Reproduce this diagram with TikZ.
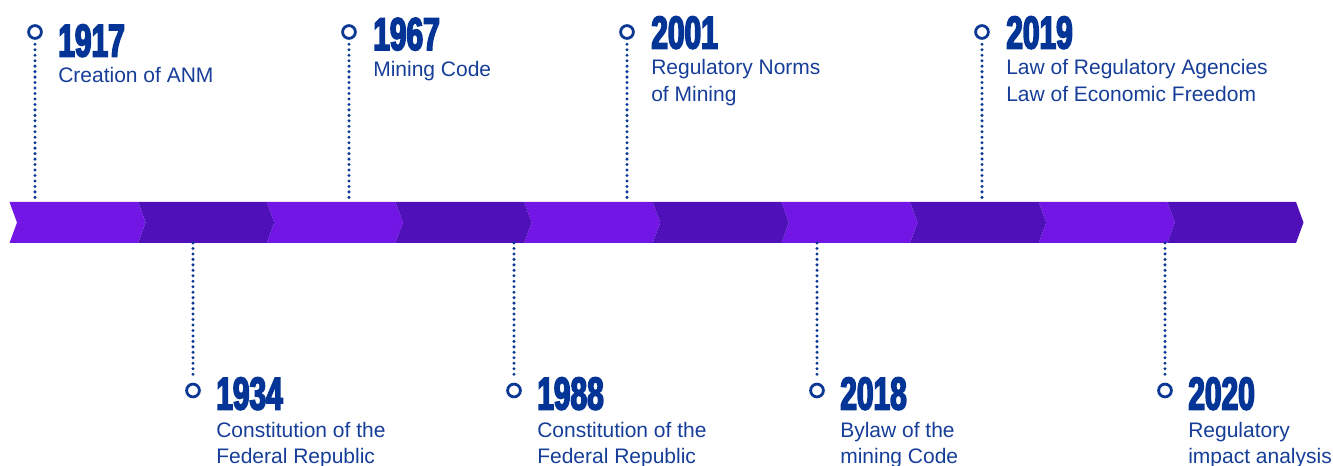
\documentclass[tikz,border=0pt]{standalone}
\usepackage{fontspec}
\setmainfont{Liberation Sans}
\newfontfamily\yearfont[FakeStretch=0.65,FakeBold=3.5]{Liberation Sans Bold}
\definecolor{bright}{RGB}{114,22,230}
\definecolor{dark}{RGB}{79,16,185}
\definecolor{yearblue}{RGB}{3,52,150}
\definecolor{lblblue}{RGB}{22,62,152}
\definecolor{lineblue}{RGB}{10,56,148}
\tikzset{
  yr/.style={font=\yearfont\fontsize{34.5}{34.5}\selectfont, text=yearblue, anchor=base west, inner sep=0pt},
  lbl/.style={font=\fontsize{15.75}{20}\selectfont, text=lblblue, anchor=base west, inner sep=0pt},
  pin/.style={circle, draw=lineblue, line width=2.1pt, fill=white, minimum size=9.6pt, inner sep=0pt},
  dots/.style={draw=lineblue, line width=2.5pt, line cap=round, dash pattern=on 0pt off 4.1pt}
}
\begin{document}
\begin{tikzpicture}[x=0.75pt,y=-0.75pt]
\useasboundingbox (0,0) rectangle (1333,466);
% band
\foreach \i in {0,2,4,6,8}{
  \pgfmathsetmacro\xx{9.5+\i*128.65}
  \fill[bright] (\xx,202) -- ++(128.65,0) -- ++(7.5,20.5) -- ++(-7.5,20.5) -- ++(-128.65,0) -- ++(7.5,-20.5) -- cycle;
}
\foreach \i in {1,3,5,7,9}{
  \pgfmathsetmacro\xx{9.5+\i*128.65}
  \fill[dark] (\xx,202) -- ++(128.65,0) -- ++(7.5,20.5) -- ++(-7.5,20.5) -- ++(-128.65,0) -- ++(7.5,-20.5) -- cycle;
}
% connector ends on the band
\coordinate (b1917) at (35,202);
\coordinate (b1967) at (349,202);
\coordinate (b2001) at (627,202);
\coordinate (b2019) at (982,202);
\coordinate (b1934) at (193,243);
\coordinate (b1988) at (514,243);
\coordinate (b2018) at (817,243);
\coordinate (b2020) at (1165,243);

\node[pin] (p1917) at (35,32) {};
\node[pin] (p1967) at (349,32) {};
\node[pin] (p2001) at (627,32) {};
\node[pin] (p2019) at (982,32) {};
\node[pin] (p1934) at (193,390.5) {};
\node[pin] (p1988) at (514,390.5) {};
\node[pin] (p2018) at (817,390.5) {};
\node[pin] (p2020) at (1165,390.5) {};

\draw[dots] (p1917.south) ++(0,4.5) -- (b1917);
\draw[dots] (p1967.south) ++(0,4.5) -- (b1967);
\draw[dots] (p2001.south) ++(0,4.5) -- (b2001);
\draw[dots] (p2019.south) ++(0,4.5) -- (b2019);
\draw[dots] (b1934) -- ([yshift=4.5pt]p1934.north);
\draw[dots] (b1988) -- ([yshift=4.5pt]p1988.north);
\draw[dots] (b2018) -- ([yshift=4.5pt]p2018.north);
\draw[dots] (b2020) -- ([yshift=4.5pt]p2020.north);

\node[yr] (y1917) at (58,56.5) {1917};
\node[lbl] (l1917) at (58,83) {Creation of ANM};
\node[yr] (y1967) at (373,50) {1967};
\node[lbl] (l1967) at (373,77) {Mining Code};
\node[yr] (y2001) at (651,48.5) {2001};
\node[lbl] (l2001a) at (651,75) {Regulatory Norms};
\node[lbl] (l2001b) at (651,102) {of Mining};
\node[yr] (y2019) at (1006,48.5) {2019};
\node[lbl] (l2019a) at (1006,75) {Law of Regulatory Agencies};
\node[lbl] (l2019b) at (1006,102) {Law of Economic Freedom};

\node[yr] (y1934) at (216,409.5) {1934};
\node[lbl] (l1934a) at (216,437) {Constitution of the};
\node[lbl] (l1934b) at (216,463) {Federal Republic};
\node[yr] (y1988) at (537,409.5) {1988};
\node[lbl] (l1988a) at (537,437) {Constitution of the};
\node[lbl] (l1988b) at (537,463) {Federal Republic};
\node[yr] (y2018) at (840,409.5) {2018};
\node[lbl] (l2018a) at (840,437) {Bylaw of the};
\node[lbl] (l2018b) at (840,463) {mining Code};
\node[yr] (y2020) at (1188,409.5) {2020};
\node[lbl] (l2020a) at (1188,437) {Regulatory};
\node[lbl] (l2020b) at (1188,463) {impact analysis};
\end{tikzpicture}
\end{document}
